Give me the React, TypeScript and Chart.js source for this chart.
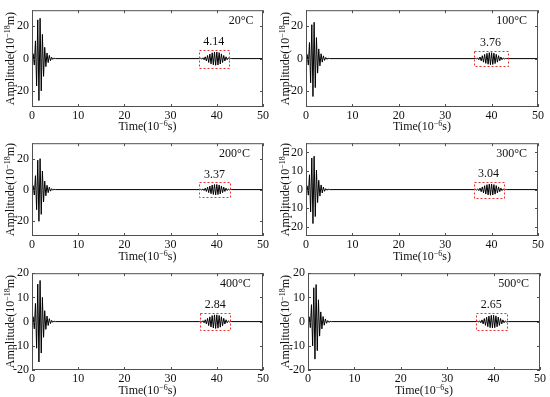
import React, { useEffect, useRef } from 'react';
import { Chart, registerables } from 'chart.js';

Chart.register(...registerables);

// ---------- data ----------
const TEMPERATURES = ['20°C', '100°C', '200°C', '300°C', '400°C', '500°C'];
const PEAK_LABELS = ['4.14', '3.76', '3.37', '3.04', '2.84', '2.65'];
const X_TICKS = [0, 10, 20, 30, 40, 50];
const Y_TICKS = [
  [-20, 0, 20],
  [-20, 0, 20],
  [-20, 0, 20],
  [-20, -10, 0, 10, 20],
  [-20, -10, 0, 10, 20],
  [-20, -10, 0, 10, 20],
];
const Y_LIMITS = [30, 30, 30, 25, 20, 20];
const X_TITLE = [['Time(10', false], ['−6', true], ['s)', false]] as [string, boolean][];
const Y_TITLE = [['Amplitude(10', false], ['−18', true], ['m)', false]] as [string, boolean][];

// time (µs) of the extremes of the first (direct) wave packet
const TIME_BURST_1 = [0, 0.25, 0.5, 0.75, 1.0, 1.25, 1.5, 1.75, 2.0, 2.25, 2.5, 2.75, 3.0, 3.25, 3.5, 3.75, 4.0, 4.25, 4.5, 4.75, 5.05];
// time (µs) of the extremes of the second (echo) wave packet
const TIME_BURST_2 = [36.25, 36.5, 36.75, 37.0, 37.25, 37.5, 37.75, 38.0, 38.25, 38.5, 38.75, 39.0, 39.25, 39.5, 39.75, 40.0, 40.25, 40.5, 40.75, 41.0, 41.25, 41.5, 41.75, 42.0, 42.25, 42.5, 42.75, 43.0, 43.25];

const AMP1_20 = [0, 3, -4, 11, -17, 24, -26, 25, -20, 15, -11, 7, -5, 3.5, -2.5, 2, -1.3, 0.8, -0.5, 0.3, 0];
const AMP1_100 = [0, 2.5, -4, 10, -15, 21, -23.5, 22.5, -18, 13, -9, 6, -4.5, 3, -2.2, 1.7, -1.1, 0.7, -0.4, 0.2, 0];
const AMP1_200 = [0, 2.5, -3.5, 9, -13, 19, -20.5, 20, -16, 12, -8, 5.5, -4, 2.8, -2, 1.5, -1, 0.6, -0.4, 0.2, 0];
const AMP1_300 = [0, 2, -3, 8, -12, 17, -18.3, 18, -14.5, 10.5, -7, 5, -3.5, 2.5, -1.8, 1.3, -0.9, 0.5, -0.3, 0.2, 0];
const AMP1_400 = [0, 2, -3, 7.5, -11, 15.5, -16.7, 17, -13, 10, -6.5, 4.5, -3.2, 2.3, -1.6, 1.2, -0.8, 0.5, -0.3, 0.2, 0];
const AMP1_500 = [0, 2, -2.5, 7, -10, 14, -15.5, 15.3, -12, 9, -6, 4, -3, 2.1, -1.5, 1.1, -0.7, 0.4, -0.3, 0.1, 0];

const AMP2_20 = [0, 0.2, -0.3, 0.5, -0.75, 1.1, -1.5, 1.95, -2.4, 2.85, -3.25, 3.6, -3.85, 4.05, -4.14, 4.1, -3.95, 3.7, -3.35, 2.9, -2.45, 1.95, -1.5, 1.1, -0.75, 0.45, -0.25, 0.1, 0];
const AMP2_100 = [0, 0.2, -0.27, 0.45, -0.7, 1.0, -1.35, 1.8, -2.2, 2.6, -2.95, 3.25, -3.5, 3.68, -3.76, 3.72, -3.6, 3.35, -3.05, 2.65, -2.2, 1.8, -1.35, 1.0, -0.7, 0.4, -0.22, 0.1, 0];
const AMP2_200 = [0, 0.15, -0.25, 0.4, -0.6, 0.9, -1.2, 1.6, -1.95, 2.3, -2.65, 2.95, -3.15, 3.3, -3.37, 3.33, -3.2, 3.0, -2.75, 2.35, -2.0, 1.6, -1.2, 0.9, -0.6, 0.35, -0.2, 0.08, 0];
const AMP2_300 = [0, 0.15, -0.22, 0.37, -0.55, 0.8, -1.1, 1.45, -1.75, 2.1, -2.4, 2.65, -2.85, 2.97, -3.04, 3.0, -2.9, 2.7, -2.45, 2.15, -1.8, 1.45, -1.1, 0.8, -0.55, 0.33, -0.18, 0.07, 0];
const AMP2_400 = [0, 0.14, -0.2, 0.35, -0.5, 0.75, -1.0, 1.35, -1.65, 1.95, -2.25, 2.5, -2.65, 2.78, -2.84, 2.8, -2.7, 2.55, -2.3, 2.0, -1.7, 1.35, -1.0, 0.75, -0.5, 0.3, -0.17, 0.07, 0];
const AMP2_500 = [0, 0.13, -0.2, 0.33, -0.48, 0.7, -0.95, 1.25, -1.55, 1.8, -2.1, 2.3, -2.5, 2.6, -2.65, 2.62, -2.52, 2.37, -2.15, 1.87, -1.58, 1.27, -0.95, 0.7, -0.48, 0.28, -0.16, 0.06, 0];

const AMP_BURST_1 = [AMP1_20, AMP1_100, AMP1_200, AMP1_300, AMP1_400, AMP1_500];
const AMP_BURST_2 = [AMP2_20, AMP2_100, AMP2_200, AMP2_300, AMP2_400, AMP2_500];

// dashed box around the echo (data units)
const BOX_X_MIN = [36.1, 36.1, 36.1, 36.1, 36.4, 36.2];
const BOX_X_MAX = [42.6, 43.4, 42.9, 42.6, 42.9, 42.8];
const BOX_Y_MIN = [-5.5, -5, -5, -4.5, -3.6, -3.6];
const BOX_Y_MAX = [5.5, 4.6, 4.6, 4.2, 3.6, 3.6];
const TEMP_LABEL_X = [42.6, 41, 40.5, 41, 40.7, 41];

// ---------- layout (pixels) ----------
const PANELS = [
  { cx: 0, cy: 0, cw: 275, ch: 133, l: 32, t: 3, r: 263, b: 107 },
  { cx: 275, cy: 0, cw: 275, ch: 133, l: 306, t: 4, r: 538, b: 107 },
  { cx: 0, cy: 133, cw: 275, ch: 130, l: 32, t: 139, r: 263, b: 236 },
  { cx: 275, cy: 133, cw: 275, ch: 130, l: 306, t: 137, r: 538, b: 236 },
  { cx: 0, cy: 263, cw: 275, ch: 134, l: 32, t: 269, r: 263, b: 370 },
  { cx: 275, cy: 263, cw: 275, ch: 134, l: 308, t: 270, r: 540, b: 370 },
];

const FONT_FAMILY = '"Liberation Serif", "Times New Roman", "DejaVu Serif", serif';
const TEXT_COLOR = '#111';
const AXIS_COLOR = '#505050';

function buildPoints(i: number) {
  const pts: { x: number; y: number }[] = [];
  TIME_BURST_1.forEach((t, k) => pts.push({ x: t, y: AMP_BURST_1[i][k] }));
  TIME_BURST_2.forEach((t, k) => pts.push({ x: t, y: AMP_BURST_2[i][k] }));
  pts.push({ x: 50, y: 0 });
  return pts;
}

function drawRich(ctx: CanvasRenderingContext2D, parts: [string, boolean][], cx: number, cy: number) {
  const main = '12px ' + FONT_FAMILY;
  const sup = '8px ' + FONT_FAMILY;
  let total = 0;
  const widths = parts.map(([s, isSup]) => {
    ctx.font = isSup ? sup : main;
    const w = ctx.measureText(s).width;
    total += w;
    return w;
  });
  let x = cx - total / 2;
  ctx.textAlign = 'left';
  ctx.textBaseline = 'alphabetic';
  parts.forEach(([s, isSup], k) => {
    ctx.font = isSup ? sup : main;
    ctx.fillText(s, x, isSup ? cy - 0.5 : cy + 4);
    x += widths[k];
  });
}

function makeFramePlugin(i: number) {
  return {
    id: 'frame' + i,
    afterDraw(chart: any) {
      const { ctx, chartArea } = chart;
      const xs = chart.scales.x;
      const ys = chart.scales.y;
      const { left, top, right, bottom } = chartArea;
      ctx.save();
      // frame
      ctx.strokeStyle = AXIS_COLOR;
      ctx.lineWidth = 1;
      ctx.strokeRect(left + 0.5, top + 0.5, right - left - 1, bottom - top - 1);
      // inward ticks
      ctx.beginPath();
      X_TICKS.forEach((v) => {
        const px = Math.round(xs.getPixelForValue(v)) + 0.5;
        ctx.moveTo(px, bottom);
        ctx.lineTo(px, bottom - 3);
        ctx.moveTo(px, top);
        ctx.lineTo(px, top + 3);
      });
      Y_TICKS[i].forEach((v) => {
        const py = Math.round(ys.getPixelForValue(v)) + 0.5;
        ctx.moveTo(left, py);
        ctx.lineTo(left + 3, py);
        ctx.moveTo(right, py);
        ctx.lineTo(right - 3, py);
      });
      ctx.stroke();
      // red dashed box
      const bx0 = xs.getPixelForValue(BOX_X_MIN[i]);
      const bx1 = xs.getPixelForValue(BOX_X_MAX[i]);
      const by0 = ys.getPixelForValue(BOX_Y_MAX[i]);
      const by1 = ys.getPixelForValue(BOX_Y_MIN[i]);
      ctx.strokeStyle = '#e8302c';
      ctx.setLineDash([2, 2]);
      ctx.strokeRect(Math.round(bx0) + 0.5, Math.round(by0) + 0.5, Math.round(bx1 - bx0), Math.round(by1 - by0));
      ctx.setLineDash([]);
      // peak value label
      ctx.fillStyle = TEXT_COLOR;
      ctx.font = '12px ' + FONT_FAMILY;
      ctx.textAlign = 'center';
      ctx.textBaseline = 'bottom';
      ctx.fillText(PEAK_LABELS[i], (bx0 + bx1) / 2, by0 - 2);
      // temperature label
      ctx.font = '12px ' + FONT_FAMILY;
      ctx.textAlign = 'left';
      ctx.textBaseline = 'middle';
      ctx.fillText(TEMPERATURES[i], xs.getPixelForValue(TEMP_LABEL_X[i]), top + 11);
      // axis titles
      drawRich(ctx, X_TITLE, (left + right) / 2, chart.height - 7);
      ctx.save();
      ctx.translate(10, (top + bottom) / 2);
      ctx.rotate(-Math.PI / 2);
      drawRich(ctx, Y_TITLE, 0, 0);
      ctx.restore();
      ctx.restore();
    },
  };
}

function Panel({ index }: { index: number }) {
  const ref = useRef<HTMLCanvasElement | null>(null);
  const p = PANELS[index];
  useEffect(() => {
    if (!ref.current) return;
    const yW = p.l - p.cx;
    const xH = p.cy + p.ch - p.b;
    const font = { family: FONT_FAMILY, size: 12 };
    const chart = new Chart(ref.current, {
      type: 'line',
      data: {
        datasets: [
          {
            data: buildPoints(index),
            borderColor: '#000',
            borderWidth: 1,
            pointRadius: 0,
            tension: 0,
            fill: false,
          },
        ],
      },
      options: {
        animation: false,
        responsive: false,
        maintainAspectRatio: false,
        events: [],
        layout: { padding: { left: 0, top: p.t - p.cy, right: p.cx + p.cw - p.r, bottom: 0 } },
        plugins: { legend: { display: false }, tooltip: { enabled: false } },
        scales: {
          x: {
            type: 'linear',
            min: 0,
            max: 50,
            afterBuildTicks: (s: any) => {
              s.ticks = X_TICKS.map((v) => ({ value: v }));
            },
            afterFit: (s: any) => {
              s.height = xH;
            },
            grid: { display: false, drawTicks: false },
            border: { display: false },
            ticks: { padding: 2, font, color: TEXT_COLOR, maxRotation: 0, autoSkip: false },
            title: { display: false },
          },
          y: {
            type: 'linear',
            min: -Y_LIMITS[index],
            max: Y_LIMITS[index],
            afterBuildTicks: (s: any) => {
              s.ticks = Y_TICKS[index].map((v) => ({ value: v }));
            },
            afterFit: (s: any) => {
              s.width = yW;
            },
            grid: { display: false, drawTicks: false },
            border: { display: false },
            ticks: { padding: 3, font, color: TEXT_COLOR, autoSkip: false },
            title: { display: false },
          },
        },
      },
      plugins: [makeFramePlugin(index)],
    } as any);
    return () => chart.destroy();
  }, [index]);
  return (
    <canvas
      ref={ref}
      width={p.cw}
      height={p.ch}
      style={{ position: 'absolute', left: p.cx, top: p.cy, width: p.cw, height: p.ch }}
    />
  );
}

export default function App() {
  return (
    <div style={{ position: 'fixed', left: 0, top: 0, width: 550, height: 397, background: '#fff' }}>
      {PANELS.map((_, i) => (
        <Panel key={i} index={i} />
      ))}
    </div>
  );
}
